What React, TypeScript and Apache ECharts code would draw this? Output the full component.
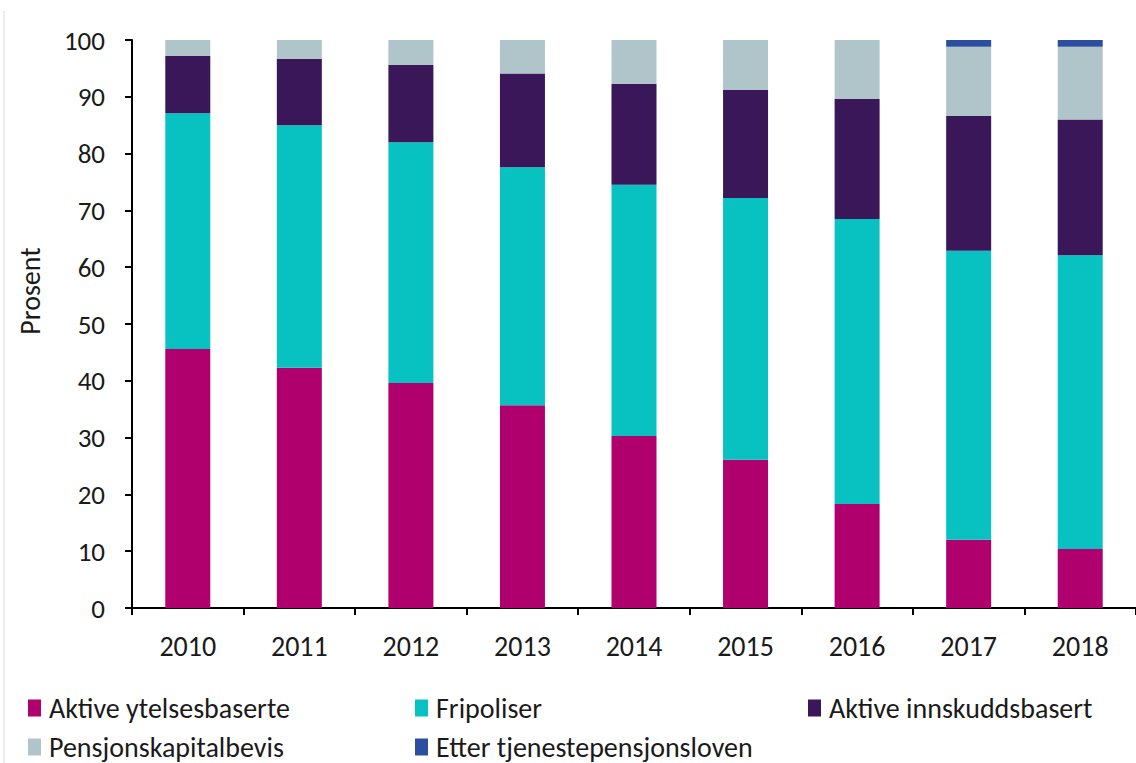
import React, { useEffect, useRef } from "react";
import * as echarts from "echarts";

const years = ["2010", "2011", "2012", "2013", "2014", "2015", "2016", "2017", "2018"];
const aktiveYtelses = [45.6, 42.3, 39.6, 35.7, 30.3, 26.1, 18.3, 12.0, 10.4];
const fripoliser = [41.5, 42.7, 42.4, 41.9, 44.2, 46.1, 50.2, 50.9, 51.7];
const aktiveInnskudd = [10.1, 11.7, 13.6, 16.5, 17.8, 19.0, 21.1, 23.7, 23.9];
const pensjonskapital = [2.8, 3.3, 4.4, 5.9, 7.7, 8.8, 10.4, 12.2, 12.8];
const etterTjp = [0, 0, 0, 0, 0, 0, 0, 1.2, 1.2];

const names = [
  "Aktive ytelsesbaserte",
  "Fripoliser",
  "Aktive innskuddsbasert",
  "Pensjonskapitalbevis",
  "Etter tjenestepensjonsloven",
];
const colors = ["#B0006E", "#08C2C2", "#3A1759", "#AFC5CA", "#2B4F9E"];
const seriesData = [aktiveYtelses, fripoliser, aktiveInnskudd, pensjonskapital, etterTjp];

const FONT = "Carlito, 'Open Sans', sans-serif";
const TXT = "#1a1a1a";

export default function App() {
  const ref = useRef<HTMLDivElement>(null);
  useEffect(() => {
    if (!ref.current) return;
    const chart = echarts.init(ref.current, undefined, { renderer: "svg" });
    const legendPos = [
      { left: 28, top: 694 },
      { left: 415, top: 694 },
      { left: 808, top: 694 },
      { left: 28, top: 733 },
      { left: 415, top: 733 },
    ];
    chart.setOption({
      animation: false,
      backgroundColor: "#ffffff",
      textStyle: { fontFamily: FONT },
      grid: { left: 132, top: 40, width: 1020.6, height: 568, containLabel: false },
      legend: names.map((n, i) => ({
        data: [n],
        left: legendPos[i].left,
        top: legendPos[i].top,
        icon: "rect",
        itemWidth: 13,
        itemHeight: 17,
        itemGap: 9,
        padding: 0,
        selectedMode: false,
        textStyle: {
          fontSize: 28,
          lineHeight: 28,
          color: TXT,
          fontFamily: FONT,
          padding: [0, 0, 0, 3],
        },
      })),
      xAxis: {
        type: "category",
        data: years,
        axisLine: { lineStyle: { color: "#000", width: 2 } },
        axisTick: { show: true, length: 7, lineStyle: { color: "#000", width: 2 } },
        axisLabel: { fontSize: 28, color: TXT, margin: 24, fontFamily: FONT },
      },
      yAxis: {
        type: "value",
        min: 0,
        max: 100,
        interval: 10,
        splitLine: { show: false },
        axisLine: { show: true, lineStyle: { color: "#000", width: 2 } },
        axisTick: { show: true, length: 7, lineStyle: { color: "#000", width: 2 } },
        axisLabel: { fontSize: 27, color: TXT, margin: 27, fontFamily: FONT },
      },
      graphic: [
        {
          type: "line",
          shape: { x1: 4, y1: 11, x2: 4, y2: 763 },
          style: { stroke: "#d9d9d9", lineWidth: 1 },
        },
        {
          type: "text",
          x: 30,
          y: 291,
          rotation: Math.PI / 2,
          style: {
            text: "Prosent",
            fontSize: 28,
            fill: TXT,
            fontFamily: FONT,
            align: "center",
            verticalAlign: "middle",
          },
        },
      ],
      series: names.map((n, i) => ({
        name: n,
        type: "bar",
        stack: "total",
        data: seriesData[i],
        barWidth: 45,
        itemStyle: { color: colors[i] },
      })),
    });
    return () => chart.dispose();
  }, []);
  return (
    <div
      ref={ref}
      style={{ position: "absolute", left: 0, top: 0, width: 1136, height: 763 }}
    />
  );
}
